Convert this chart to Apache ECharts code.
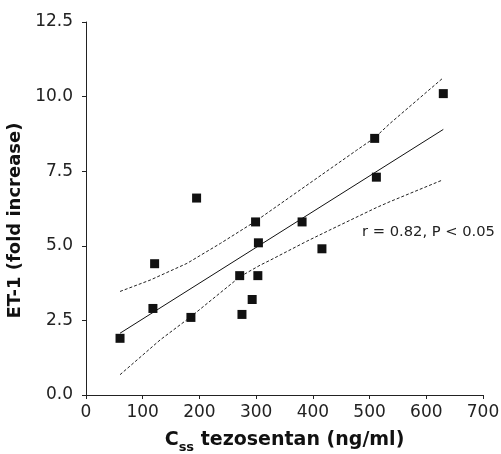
<!DOCTYPE html>
<html>
<head>
<meta charset="utf-8">
<script src="https://cdn.jsdelivr.net/npm/echarts@6/dist/echarts.min.js"></script>
<style>html,body{margin:0;padding:0;background:#fff;}#c{width:501px;height:454px;}</style>
</head>
<body>
<div id="c"></div>
<script>
var xValues = [60, 121, 118, 185, 195, 271, 275, 293, 303, 304, 299, 381, 416, 509, 512, 630];
var yValues = [1.9, 4.4, 2.9, 2.6, 6.6, 4.0, 2.7, 3.2, 4.0, 5.1, 5.8, 5.8, 4.9, 8.6, 7.3, 10.1];
var fitX = [60, 630];
var fitY = [2.07, 8.9];
var upperX = [60, 113, 178, 237, 298, 477, 509, 536, 628];
var upperY = [3.47, 3.85, 4.41, 5.08, 5.81, 8.2, 8.62, 9.1, 10.6];
var lowerX = [60, 131, 184, 272, 307, 325, 389, 430, 512, 536, 628];
var lowerY = [0.68, 1.85, 2.61, 3.97, 4.35, 4.52, 5.15, 5.53, 6.28, 6.48, 7.2];
var statText = 'r = 0.82, P < 0.05';

function zip(a, b) { return a.map(function (v, i) { return [v, b[i]]; }); }

var chart = echarts.init(document.getElementById('c'), null, {renderer: 'canvas'});
var axisCol = '#222';
var font = 'DejaVu Sans';
chart.setOption({
  animation: false,
  backgroundColor: '#fff',
  grid: {left: 86, right: 18, top: 22, bottom: 59, containLabel: false, outerBoundsMode: 'none'},
  xAxis: {
    type: 'value', min: 0, max: 700, interval: 100,
    splitLine: {show: false},
    axisLine: {lineStyle: {color: axisCol, width: 1}},
    axisTick: {length: 4, lineStyle: {color: axisCol}},
    axisLabel: {color: '#222', fontSize: 17, fontFamily: font, margin: 9},
    name: '{b|C}{s|ss}{b| tezosentan (ng/ml)}',
    nameLocation: 'middle', nameGap: 33,
    nameTextStyle: {
      rich: {
        b: {fontSize: 19, fontWeight: 'bold', fontFamily: font, color: '#111', lineHeight: 22, verticalAlign: 'bottom'},
        s: {fontSize: 13, fontWeight: 'bold', fontFamily: font, color: '#111', lineHeight: 22, verticalAlign: 'bottom', padding: [0, 0, -4, 0]}
      }
    }
  },
  yAxis: {
    type: 'value', min: 0, max: 12.5, interval: 2.5,
    splitLine: {show: false},
    axisLine: {show: true, lineStyle: {color: axisCol, width: 1}},
    axisTick: {show: true, length: 4, lineStyle: {color: axisCol}},
    axisLabel: {color: '#222', fontSize: 17, fontFamily: font, margin: 13,
      formatter: function (v) { return v.toFixed(1); }},
    name: 'ET-1 (fold increase)',
    nameLocation: 'middle', nameGap: 57,
    nameTextStyle: {fontSize: 18, fontWeight: 'bold', fontFamily: font, color: '#111', padding: [0, 24, 0, 0]}
  },
  graphic: [{
    type: 'text', left: 362, top: 225,
    style: {text: statText, fontSize: 14.7, fontFamily: font, fill: '#222'}
  }],
  series: [
    {type: 'line', data: zip(upperX, upperY), showSymbol: false, symbol: 'none',
      lineStyle: {color: '#222', width: 1, type: [3, 2]}},
    {type: 'line', data: zip(lowerX, lowerY), showSymbol: false, symbol: 'none',
      lineStyle: {color: '#222', width: 1, type: [3, 2]}},
    {type: 'line', data: zip(fitX, fitY), showSymbol: false, symbol: 'none',
      lineStyle: {color: '#111', width: 1}},
    {type: 'scatter', data: zip(xValues, yValues), symbol: 'rect', symbolSize: 9,
      itemStyle: {color: '#111', opacity: 1}, z: 5}
  ]
});
</script>
</body>
</html>
